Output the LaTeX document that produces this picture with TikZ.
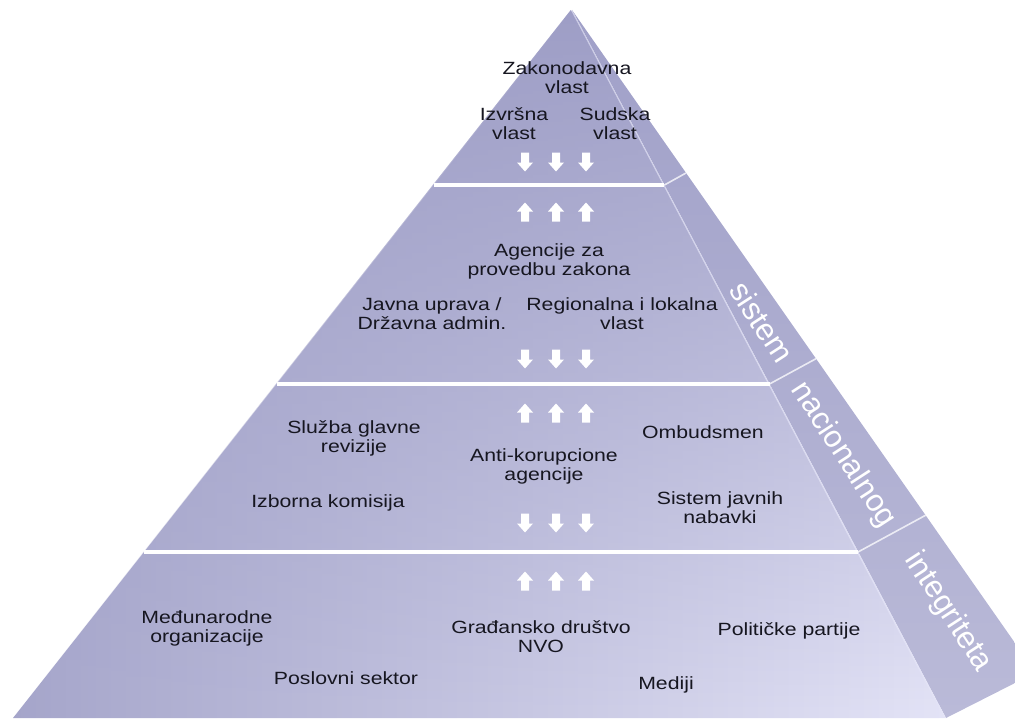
\documentclass[tikz,border=0pt]{standalone}
\usepackage{fontspec}
\setmainfont{Liberation Sans}[FakeStretch=1.2]
\newfontfamily\sidefont{Liberation Sans}
\usetikzlibrary{fadings}
\definecolor{frontL}{RGB}{166,166,203}
\definecolor{frontR}{RGB}{228,228,247}
\definecolor{frontTop}{RGB}{158,158,198}
\definecolor{sideTop}{RGB}{160,160,200}
\definecolor{sideBot}{RGB}{186,186,216}
\definecolor{txt}{RGB}{22,22,32}
\begin{document}
\begin{tikzpicture}[x=1pt,y=-1pt,
  lbl/.style={align=center, text=txt, font=\fontsize{17.7}{19}\selectfont, inner sep=0pt},
  sidelbl/.style={text=white, font=\sidefont\fontsize{31}{31}\selectfont, rotate=-57, inner sep=0pt},
  bandsep/.style={white, line width=4pt},
  sidesep/.style={white, opacity=0.75, line width=1.6pt},
  downarr/.pic={\fill[white] (-4,-9.5) -- (4,-9.5) -- (4,0.5) -- (8,0.5) -- (0,9.5) -- (-8,0.5) -- (-4,0.5) -- cycle;},
  uparr/.pic={\fill[white] (-4,9.5) -- (4,9.5) -- (4,-0.5) -- (8,-0.5) -- (0,-9.5) -- (-8,-0.5) -- (-4,-0.5) -- cycle;}]
\useasboundingbox (0,0) rectangle (1015,725);
% geometry
\coordinate (A) at (572,10);
\coordinate (BL) at (13,718);
\coordinate (BR) at (946,718);
\coordinate (O1) at (1015,643);
\coordinate (O2) at (1015,683);
% side face
\shade[top color=sideTop, bottom color=sideBot] (A) -- (O1) -- (O2) -- (BR) -- cycle;
% front face
\shade[left color=frontL, right color=frontR] (A) -- (BL) -- (BR) -- cycle;
\fill[frontTop, path fading=south] (A) -- (BL) -- (BR) -- cycle;
% band separators on front face
\coordinate (L1) at (434,185);  \coordinate (P1) at (664.4,185); \coordinate (Q1) at (686,173);
\coordinate (L2) at (277,384);  \coordinate (P2) at (769.5,384); \coordinate (Q2) at (816,358.7);
\coordinate (L3) at (144,552);  \coordinate (P3) at (858,552);   \coordinate (Q3) at (925.7,515.2);
\draw[bandsep] (L1) -- (P1);
\draw[bandsep] (L2) -- (P2);
\draw[bandsep] (L3) -- (P3);
\draw[sidesep] (P1) -- (Q1);
\draw[sidesep] (P2) -- (Q2);
\draw[sidesep] (P3) -- (Q3);
% arrows
\foreach \x in {525,556,586}{
  \pic at (\x,162) {downarr};
  \pic at (\x,212) {uparr};
  \pic at (\x,359) {downarr};
  \pic at (\x,413) {uparr};
  \pic at (\x,523) {downarr};
  \pic at (\x,581) {uparr};
}
% labels
\node[lbl] (zak) at (567,78) {Zakonodavna\\vlast};
\node[lbl] (izv) at (514,124) {Izvršna\\vlast};
\node[lbl] (sud) at (615,124) {Sudska\\vlast};
\node[lbl] (age) at (549,261) {Agencije za\\provedbu zakona};
\node[lbl] (jav) at (432,314) {Javna uprava /\\Državna admin.};
\node[lbl] (reg) at (622,314) {Regionalna i lokalna\\vlast};
\node[lbl] (slu) at (354,438) {Služba glavne\\revizije};
\node[lbl] (ant) at (544,466) {Anti-korupcione\\agencije};
\node[lbl] (omb) at (703,432) {Ombudsmen};
\node[lbl] (izb) at (328,503) {Izborna komisija};
\node[lbl] (sis) at (720,508) {Sistem javnih\\nabavki};
\node[lbl] (med) at (207,628) {Međunarodne\\organizacije};
\node[lbl] (pos) at (346,678) {Poslovni sektor};
\node[lbl] (gra) at (541,637) {Građansko društvo\\NVO};
\node[lbl] (pol) at (789,631) {Političke partije};
\node[lbl] (mdj) at (666,685) {Mediji};
% side labels
\node[sidelbl] (s1) at (762,322) {sistem};
\node[sidelbl] (s2) at (843,455) {nacionalnog};
\node[sidelbl] (s3) at (948,612) {integriteta};
\end{tikzpicture}
\end{document}
